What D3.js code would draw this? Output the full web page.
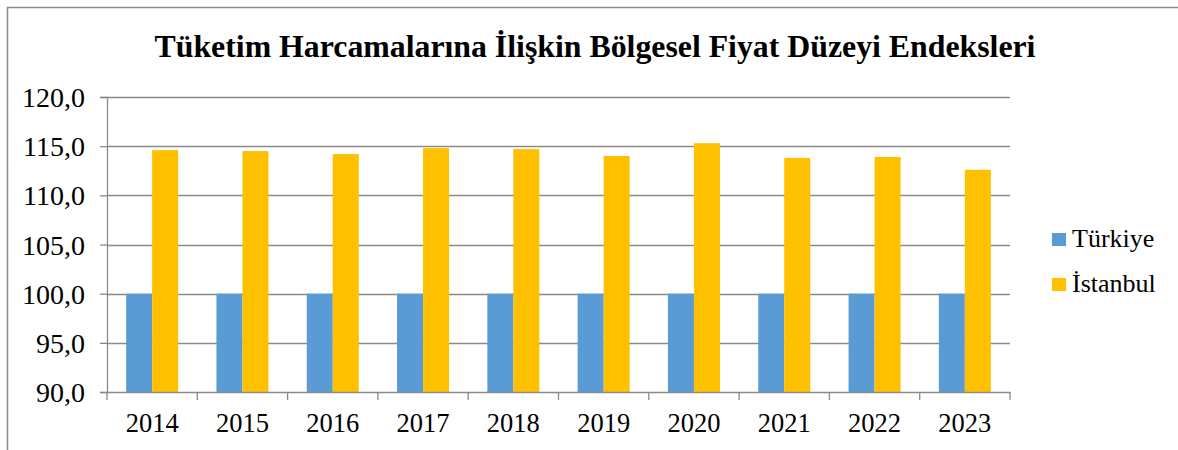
<!DOCTYPE html>
<html>
<head>
<meta charset="utf-8">
<script src="https://cdn.jsdelivr.net/npm/d3@7"></script>
<style>
  body { margin: 0; background: #fff; }
</style>
</head>
<body>
<div id="chart"></div>
<script>
// chart data
var years = ["2014", "2015", "2016", "2017", "2018", "2019", "2020", "2021", "2022", "2023"];
var seriesNames = ["Türkiye", "İstanbul"];
var turkiye = [100, 100, 100, 100, 100, 100, 100, 100, 100, 100];
var istanbul = [114.6, 114.5, 114.2, 114.8, 114.7, 114.0, 115.3, 113.8, 113.9, 112.6];
var yTicks = [90, 95, 100, 105, 110, 115, 120];
var colors = ["#5B9BD5", "#FFC000"];

var serif = '"Liberation Serif", "Times New Roman", Times, serif';
var width = 1178, height = 450;
var margin = {left: 107, top: 97, right: 168, bottom: 58}; // plot area 107..1010, 97..392

var svg = d3.select("#chart").append("svg")
    .attr("width", width)
    .attr("height", height);

// outer chart frame (only left and top edges are visible in the picture)
svg.append("rect")
    .attr("x", 7.5).attr("y", 7.5)
    .attr("width", width + 20).attr("height", height + 20)
    .attr("fill", "none")
    .attr("stroke", "#8c8c8c")
    .attr("stroke-width", 1.5);

svg.append("text")
    .attr("class", "title")
    .attr("x", 595).attr("y", 57)
    .attr("text-anchor", "middle")
    .attr("font-weight", "bold")
    .attr("font-size", 31.8)
    .text("Tüketim Harcamalarına İlişkin Bölgesel Fiyat Düzeyi Endeksleri");

var x0 = d3.scaleBand()
    .domain(years)
    .range([margin.left, width - margin.right])
    .paddingInner(0)
    .paddingOuter(0);

var y = d3.scaleLinear()
    .domain([90, 120])
    .range([height - margin.bottom, margin.top]);

var fmt = function(d){ return d3.format(".1f")(d).replace(".", ","); };

// gridlines
svg.append("g")
    .selectAll("line")
    .data(yTicks.slice(1))
    .enter().append("line")
    .attr("x1", margin.left).attr("x2", width - margin.right)
    .attr("y1", function(d){ return Math.round(y(d)) + 0.5; })
    .attr("y2", function(d){ return Math.round(y(d)) + 0.5; })
    .attr("stroke", "#8a8a8a")
    .attr("stroke-width", 1.3);

// bars, one group per year
var barW = 26;
var rows = years.map(function(yr, i){ return {year: yr, vals: [turkiye[i], istanbul[i]]}; });

var groups = svg.append("g").selectAll("g")
    .data(rows)
    .enter().append("g")
    .attr("transform", function(d){ return "translate(" + (x0(d.year) + x0.bandwidth() / 2 - barW) + ",0)"; });

groups.selectAll("rect")
    .data(function(d){ return d.vals; })
    .enter().append("rect")
    .attr("x", function(d, i){ return i * barW; })
    .attr("y", function(d){ return y(d); })
    .attr("width", barW)
    .attr("height", function(d){ return y(90) - y(d); })
    .attr("fill", function(d, i){ return colors[i]; });

// y axis
var yAxis = svg.append("g")
    .attr("transform", "translate(" + margin.left + ",0)")
    .call(d3.axisLeft(y).tickValues(yTicks).tickFormat(fmt).tickSize(7).tickPadding(15));
yAxis.selectAll("text").attr("font-size", 28).attr("dy", "0.34em");

// x axis with ticks on the category boundaries
var xAxis = svg.append("g")
    .attr("transform", "translate(0," + y(90) + ")")
    .call(d3.axisBottom(x0).tickSize(0).tickPadding(21));
xAxis.selectAll("text").attr("font-size", 26.5);

xAxis.selectAll(".bound")
    .data(years.concat(["end"]))
    .enter().append("line")
    .attr("class", "bound")
    .attr("x1", function(d, i){ return margin.left + i * x0.bandwidth(); })
    .attr("x2", function(d, i){ return margin.left + i * x0.bandwidth(); })
    .attr("y1", 0).attr("y2", 8);

svg.selectAll(".domain, .tick line, .bound")
    .attr("stroke", "#8a8a8a")
    .attr("stroke-width", 1.3);

// legend
var legend = svg.append("g").selectAll("g")
    .data(seriesNames)
    .enter().append("g")
    .attr("transform", function(d, i){ return "translate(1052," + (233 + i * 45) + ")"; });

legend.append("rect")
    .attr("width", 14).attr("height", 13)
    .attr("fill", function(d, i){ return colors[i]; });

legend.append("text")
    .attr("x", 20).attr("y", 14)
    .attr("font-size", 26)
    .text(function(d){ return d; });

// every text in Times-like serif, black
svg.selectAll("text")
    .style("font-family", serif)
    .attr("fill", "#000");
</script>
</body>
</html>
